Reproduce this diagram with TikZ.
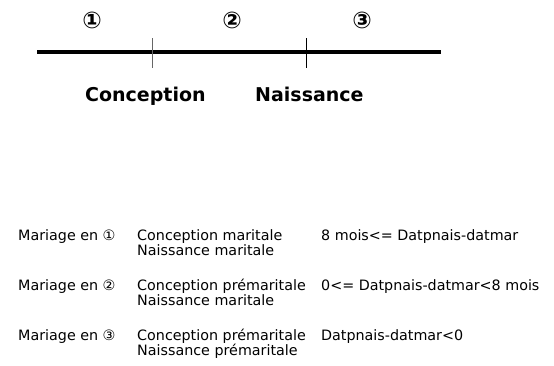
\documentclass[tikz,border=0pt]{standalone}
\usepackage{fontspec}
\setmainfont{DejaVu Sans}
\usetikzlibrary{positioning}

\begin{document}
\begin{tikzpicture}[
    x=1pt, y=-1pt,
    num/.style={
        font=\fontsize{23}{26}\selectfont\bfseries,
        inner sep=0pt
    },
    event/.style={
        anchor=base west,
        inner sep=0pt,
        font=\fontsize{19}{22}\selectfont\bfseries
    },
    txt/.style={
        anchor=base west,
        inner sep=0pt,
        font=\fontsize{14.3}{16}\selectfont
    },
    axis/.style={
        line width=3.5pt
    },
    tick/.style={
        line width=0.8pt
    }
]
\useasboundingbox (0,0) rectangle (554,365);

% === Timeline ===
\coordinate (tl-start) at (37,52);
\coordinate (tl-end) at (441,52);
\coordinate (conc-top) at (152,38);
\coordinate (conc-bot) at (152,68);
\coordinate (nais-top) at (306,38);
\coordinate (nais-bot) at (306,68);
\draw[axis] (tl-start) -- (tl-end);
\draw[tick, black!60] (conc-top) -- (conc-bot);
\draw[tick] (nais-top) -- (nais-bot);

% === Periods ===
\node[num] (p1) at (92,20) {①};
\node[num] (p2) at (232,20) {②};
\node[num] (p3) at (362,20) {③};

% === Events ===
\node[event] (conc) at (85,101) {Conception};
\node[event] (nais) at (255,101) {Naissance};

% === Cases ===
\node[txt] (m1) at (18,240) {Mariage en ①};
\node[txt] (c1a) at (137,240) {Conception maritale};
\node[txt] (c1b) at (137,255) {Naissance maritale};
\node[txt] (r1) at (321,240) {8 mois<= Datpnais-datmar};

\node[txt] (m2) at (18,290) {Mariage en ②};
\node[txt] (c2a) at (137,290) {Conception prémaritale};
\node[txt] (c2b) at (137,305) {Naissance maritale};
\node[txt] (r2) at (321,290) {0<= Datpnais-datmar<8 mois};

\node[txt] (m3) at (18,340) {Mariage en ③};
\node[txt] (c3a) at (137,340) {Conception prémaritale};
\node[txt] (c3b) at (137,355) {Naissance prémaritale};
\node[txt] (r3) at (321,340) {Datpnais-datmar<0};
\end{tikzpicture}
\end{document}
